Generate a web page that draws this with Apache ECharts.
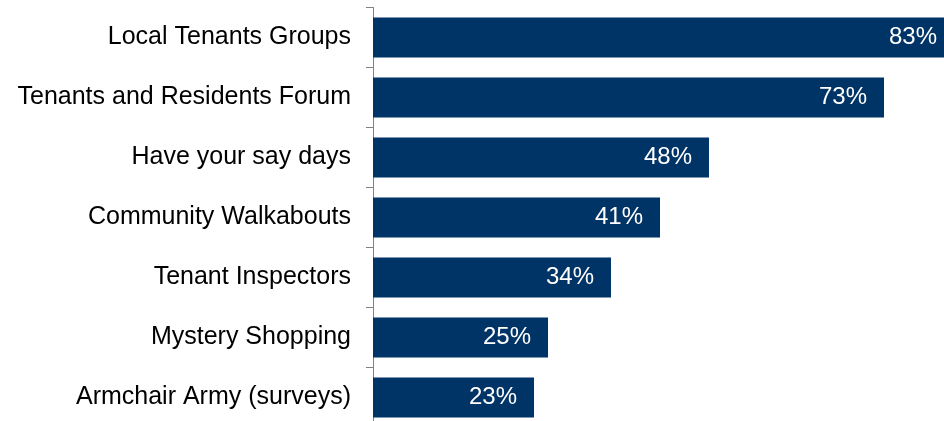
<!DOCTYPE html>
<html>
<head>
<meta charset="utf-8">
<script src="https://cdn.jsdelivr.net/npm/echarts@6/dist/echarts.min.js"></script>
<style>
  html, body { margin: 0; padding: 0; background: #ffffff; }
  #chart { width: 944px; height: 421px; }
</style>
</head>
<body>
<div id="chart"></div>
<script>
// Engagement methods, share of respondents (%)
const categories = [
  'Local Tenants Groups',
  'Tenants and Residents Forum',
  'Have your say days',
  'Community Walkabouts',
  'Tenant Inspectors',
  'Mystery Shopping',
  'Armchair Army (surveys)'
];
const values = [83, 73, 48, 41, 34, 25, 23];

const FONT = '"Liberation Sans", Arial, sans-serif';

const chart = echarts.init(document.getElementById('chart'), null, { renderer: 'canvas' });

chart.setOption({
  animation: false,
  backgroundColor: '#ffffff',
  grid: {
    left: 373,
    top: 7.5,
    width: 700,
    height: 420,
    containLabel: false,
    outerBoundsMode: 'none'
  },
  xAxis: {
    type: 'value',
    min: 0,
    max: 100,
    show: false,
    splitLine: { show: false }
  },
  yAxis: {
    type: 'category',
    data: categories,
    inverse: true,
    boundaryGap: true,
    axisLine: { show: true, lineStyle: { color: '#808080', width: 1 } },
    axisTick: { show: true, length: 7, lineStyle: { color: '#808080', width: 1 } },
    axisLabel: {
      margin: 22,
      color: '#000000',
      fontFamily: FONT,
      fontSize: 25
    }
  },
  series: [{
    type: 'bar',
    data: values,
    barWidth: 40,
    itemStyle: { color: '#003366' },
    label: {
      show: true,
      position: 'insideRight',
      distance: 17,
      color: '#ffffff',
      fontFamily: FONT,
      fontSize: 24,
      formatter: p => p.value + '%'
    }
  }]
});
</script>
</body>
</html>
